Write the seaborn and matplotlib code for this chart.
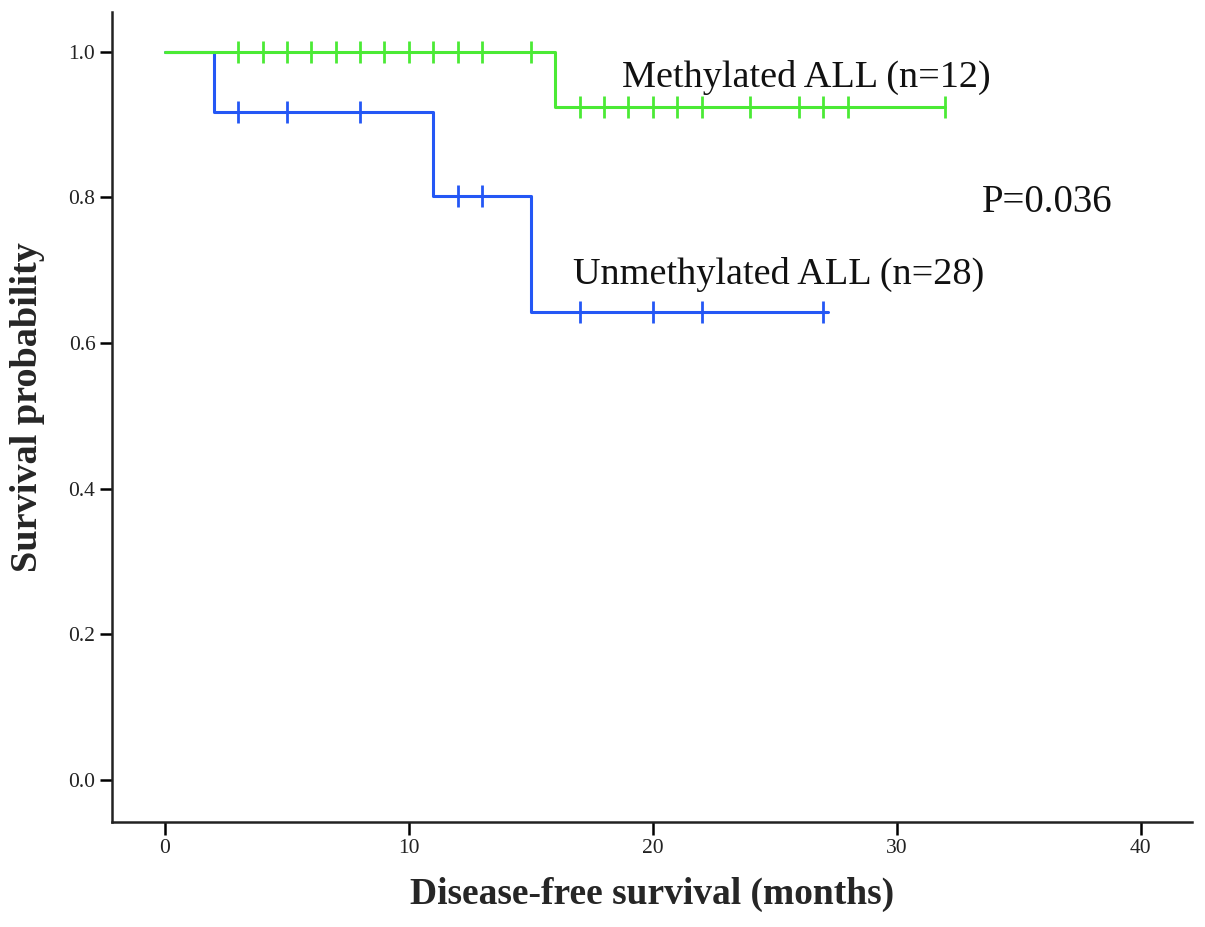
import numpy as np
import pandas as pd
import matplotlib
matplotlib.use("Agg")
import matplotlib.pyplot as plt
import seaborn as sns

# ---- data ----
meth_times = [0, 16, 32]
meth_surv = [1.0, 0.924, 0.924]
meth_censor = [3, 4, 5, 6, 7, 8, 9, 10, 11, 12, 13, 15, 17, 18, 19, 20, 21, 22, 24, 26, 27, 28, 32]

unmeth_times = [0, 2, 11, 15, 27.2]
unmeth_surv = [1.0, 0.917, 0.802, 0.642, 0.642]
unmeth_censor = [3, 5, 8, 12, 13, 17, 20, 22, 27]

x_ticks = [0, 10, 20, 30, 40]
y_ticks = [0.0, 0.2, 0.4, 0.6, 0.8, 1.0]

labels = ["Methylated ALL (n=12)", "Unmethylated ALL (n=28)"]
p_text = "P=0.036"
xlabel = "Disease-free survival (months)"
ylabel = "Survival probability"

green = "#4BEA35"
blue = "#2457F5"


def step_value(times, surv, t):
    idx = np.searchsorted(np.asarray(times), t, side="right") - 1
    return np.asarray(surv)[idx]


sns.set_theme(style="ticks")
plt.rcParams["font.family"] = ["Liberation Serif", "DejaVu Serif"]

fig = plt.figure(figsize=(12.05, 9.27), dpi=100)
ax = fig.add_axes([0.093, 0.1133, 0.896, 0.874])

df_u = pd.DataFrame({"t": unmeth_times, "s": unmeth_surv})
df_m = pd.DataFrame({"t": meth_times, "s": meth_surv})
sns.lineplot(data=df_u, x="t", y="s", drawstyle="steps-post", color=blue,
             lw=2.2, ax=ax, sort=False, zorder=2)
sns.lineplot(data=df_m, x="t", y="s", drawstyle="steps-post", color=green,
             lw=2.2, ax=ax, sort=False, zorder=3)

cu = pd.DataFrame({"t": unmeth_censor,
                   "s": [step_value(unmeth_times, unmeth_surv, t) for t in unmeth_censor]})
cm = pd.DataFrame({"t": meth_censor,
                   "s": [step_value(meth_times, meth_surv, t) for t in meth_censor]})
sns.scatterplot(data=cu, x="t", y="s", marker="|", s=260, linewidth=2.0,
                color=blue, ax=ax, zorder=4)
sns.scatterplot(data=cm, x="t", y="s", marker="|", s=260, linewidth=2.0,
                color=green, ax=ax, zorder=5)

ax.set_xlim(-2.17, 42.1)
ax.set_ylim(-0.058, 1.055)
ax.set_xticks(x_ticks)
ax.set_yticks(y_ticks)
ax.set_xticklabels([str(v) for v in x_ticks], fontsize=15.5)
ax.set_yticklabels([f"{v:.1f}" for v in y_ticks], fontsize=15.5)
ax.tick_params(direction="out", length=9, width=1.8, color="black",
               labelcolor="#222222", pad=3)

for side in ["top", "right"]:
    ax.spines[side].set_visible(False)
for side in ["left", "bottom"]:
    ax.spines[side].set_linewidth(1.8)
    ax.spines[side].set_color("#222222")

ax.set_xlabel(xlabel, fontsize=27, fontweight="bold", labelpad=14)
ax.set_ylabel(ylabel, fontsize=27.5, fontweight="bold")
ax.yaxis.set_label_coords(-0.062, 0.512)

ax.text(18.73, 0.952, labels[0], fontsize=27.5, va="baseline", ha="left", color="#111111")
ax.text(16.74, 0.681, labels[1], fontsize=27.5, va="baseline", ha="left", color="#111111")
ax.text(33.48, 0.780, p_text, fontsize=28, va="baseline", ha="left", color="#111111")

fig.savefig("out.png", dpi=100, facecolor="white")
